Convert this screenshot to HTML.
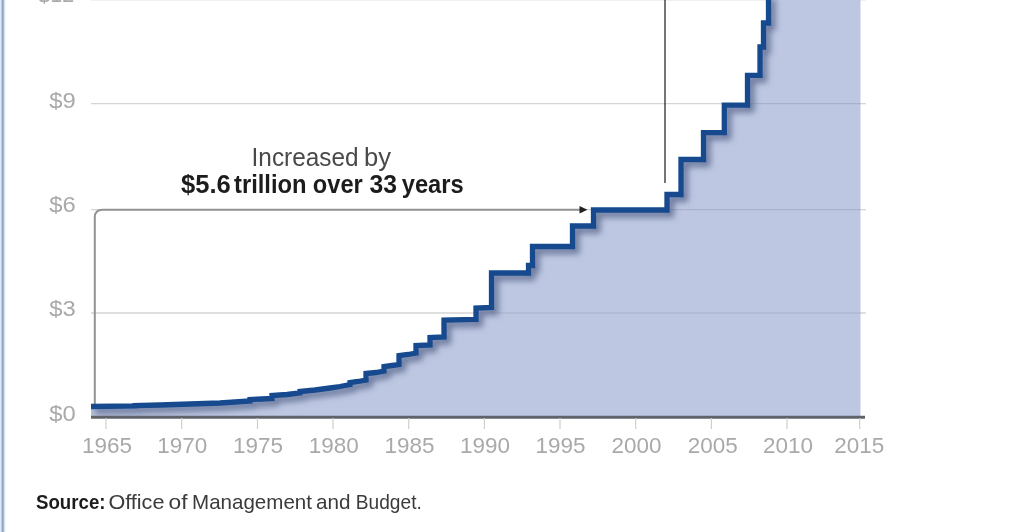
<!DOCTYPE html>
<html>
<head>
<meta charset="utf-8">
<title>Debt limit chart</title>
<style>
html,body{margin:0;padding:0;background:#fff;}
body{width:1024px;height:532px;overflow:hidden;position:relative;font-family:"Liberation Sans",sans-serif;}
svg{position:absolute;left:0;top:0;display:block;}
.edge{position:absolute;left:0;top:0;width:6px;height:532px;background:linear-gradient(to right,#dbeafb 0px,#dbeafb 1px,#bccde0 1px,#bccde0 2px,#90a6bd 2px,#90a6bd 3px,#a5b9cd 3px,#a5b9cd 4px,#d4e4f3 4px,#d4e4f3 5px,#f2f9fe 5px,#f2f9fe 6px);}
text{font-family:"Liberation Sans",sans-serif;}
.ax{fill:#a9a9a9;font-size:22px;}
</style>
</head>
<body>
<svg width="1024" height="532" viewBox="0 0 1024 532">
  <defs>
    <filter id="sh" x="-5%" y="-5%" width="110%" height="115%">
      <feGaussianBlur stdDeviation="3.2"/>
    </filter>
    <filter id="soft" x="-2%" y="-2%" width="104%" height="104%">
      <feGaussianBlur stdDeviation="0.65"/>
    </filter>
    <clipPath id="fillclip">
      <path id="areapath" d="M91,406.5 L135,406 L135,405.5 L160,405 L190,404 L205,403.5 L220,403 L235,402 L250,401 L250,399.5 L262,399 L272,398.5 L272,395.5 L287,394.5 L300,393 L300,391.5 L315,390 L330,388 L340,386.5 L350,384.5 L350,382.5 L358,381.5 L366,380 L366,373.5 L376,372.5 L384,371 L384,366.5 L392,365.5 L399,364.5 L399,355.5 L408,354.5 L416,353 L416,345.5 L430,345 L430,337.5 L444,337 L444,320 L476,319.5 L476,308 L491.5,307.5 L491.5,273 L528.5,273 L528.5,265.5 L532.5,265.5 L532.5,246.5 L572.5,246.5 L572.5,226 L593.5,226 L593.5,210 L667,210 L667,194.5 L681,194.5 L681,159.5 L703.5,159.5 L703.5,132.6 L724.3,132.6 L724.3,105.1 L747.5,105.1 L747.5,75.3 L760,75.3 L760,47 L763.5,47 L763.5,23 L768.5,23 L768.5,-5 L860.5,-5 L860.5,417 L91,417 Z"/>
    </clipPath>
  </defs>

  <g filter="url(#soft)">
  <!-- gridlines -->
  <g stroke="#d4d4d4" stroke-width="1.4">
    <line x1="91" y1="-0.2" x2="866" y2="-0.2" stroke="#e2e2e2"/>
    <line x1="91" y1="103.6" x2="866" y2="103.6"/>
    <line x1="91" y1="209.6" x2="866" y2="209.6"/>
    <line x1="91" y1="313" x2="866" y2="313"/>
  </g>

  <!-- area fill -->
  <use href="#areapath" fill="#bdc7e2"/>
  <!-- gridlines over the fill -->
  <g stroke="#a9b2c9" stroke-width="1.2" clip-path="url(#fillclip)">
    <line x1="91" y1="103.6" x2="866" y2="103.6"/>
    <line x1="91" y1="209.6" x2="866" y2="209.6"/>
    <line x1="91" y1="313" x2="866" y2="313"/>
  </g>

  <!-- shadow of line -->
  <g clip-path="url(#fillclip)">
    <path id="sline" filter="url(#sh)" transform="translate(3.5,4)" fill="none" stroke="#56648a" stroke-opacity="0.8" stroke-width="7"
      d="M91,406.5 L135,406 L135,405.5 L160,405 L190,404 L205,403.5 L220,403 L235,402 L250,401 L250,399.5 L262,399 L272,398.5 L272,395.5 L287,394.5 L300,393 L300,391.5 L315,390 L330,388 L340,386.5 L350,384.5 L350,382.5 L358,381.5 L366,380 L366,373.5 L376,372.5 L384,371 L384,366.5 L392,365.5 L399,364.5 L399,355.5 L408,354.5 L416,353 L416,345.5 L430,345 L430,337.5 L444,337 L444,320 L476,319.5 L476,308 L491.5,307.5 L491.5,273 L528.5,273 L528.5,265.5 L532.5,265.5 L532.5,246.5 L572.5,246.5 L572.5,226 L593.5,226 L593.5,210 L667,210 L667,194.5 L681,194.5 L681,159.5 L703.5,159.5 L703.5,132.6 L724.3,132.6 L724.3,105.1 L747.5,105.1 L747.5,75.3 L760,75.3 L760,47 L763.5,47 L763.5,23 L768.5,23 L768.5,-5"/>
  </g>

  <!-- annotation lines -->
  <path d="M94.8,404 L94.8,217.5 Q94.8,209.8 102.5,209.8 L582,209.8" fill="none" stroke="#939393" stroke-width="2"/>
  <path d="M579.5,206 L587.5,209.8 L579.5,213.6 Z" fill="#222"/>
  <line x1="665" y1="0" x2="665" y2="183" stroke="#2a2a2a" stroke-width="1.3"/>

  <!-- axis -->
  <line x1="91" y1="417.3" x2="865" y2="417.3" stroke="#5f636b" stroke-width="3"/>
  <g stroke="#cfcfcf" stroke-width="1.2">
    <line x1="106" y1="418" x2="106" y2="429"/>
    <line x1="181.7" y1="418" x2="181.7" y2="429"/>
    <line x1="257.5" y1="418" x2="257.5" y2="429"/>
    <line x1="333" y1="418" x2="333" y2="429"/>
    <line x1="408.7" y1="418" x2="408.7" y2="429"/>
    <line x1="484.4" y1="418" x2="484.4" y2="429"/>
    <line x1="560" y1="418" x2="560" y2="429"/>
    <line x1="635.7" y1="418" x2="635.7" y2="429"/>
    <line x1="711.4" y1="418" x2="711.4" y2="429"/>
    <line x1="787" y1="418" x2="787" y2="429"/>
    <line x1="859.7" y1="418" x2="859.7" y2="429"/>
  </g>

  <!-- main line -->
  <path fill="none" stroke="#154a8e" stroke-width="5.3" stroke-linejoin="miter"
      d="M91,406.5 L135,406 L135,405.5 L160,405 L190,404 L205,403.5 L220,403 L235,402 L250,401 L250,399.5 L262,399 L272,398.5 L272,395.5 L287,394.5 L300,393 L300,391.5 L315,390 L330,388 L340,386.5 L350,384.5 L350,382.5 L358,381.5 L366,380 L366,373.5 L376,372.5 L384,371 L384,366.5 L392,365.5 L399,364.5 L399,355.5 L408,354.5 L416,353 L416,345.5 L430,345 L430,337.5 L444,337 L444,320 L476,319.5 L476,308 L491.5,307.5 L491.5,273 L528.5,273 L528.5,265.5 L532.5,265.5 L532.5,246.5 L572.5,246.5 L572.5,226 L593.5,226 L593.5,210 L667,210 L667,194.5 L681,194.5 L681,159.5 L703.5,159.5 L703.5,132.6 L724.3,132.6 L724.3,105.1 L747.5,105.1 L747.5,75.3 L760,75.3 L760,47 L763.5,47 L763.5,23 L768.5,23 L768.5,-5"/>

  <!-- y labels -->
  <g class="ax">
    <text x="38.3" y="2.4" textLength="36" lengthAdjust="spacingAndGlyphs">$12</text>
    <text x="49.3" y="107.5" textLength="26.5" lengthAdjust="spacingAndGlyphs">$9</text>
    <text x="49.3" y="211.5" textLength="26.5" lengthAdjust="spacingAndGlyphs">$6</text>
    <text x="49.3" y="316" textLength="26.5" lengthAdjust="spacingAndGlyphs">$3</text>
    <text x="49.3" y="421" textLength="26.5" lengthAdjust="spacingAndGlyphs">$0</text>
  </g>
  <!-- x labels -->
  <g class="ax" text-anchor="middle">
    <text x="107" y="452.6" textLength="50" lengthAdjust="spacingAndGlyphs">1965</text>
    <text x="182.3" y="452.6" textLength="50" lengthAdjust="spacingAndGlyphs">1970</text>
    <text x="258.1" y="452.6" textLength="50" lengthAdjust="spacingAndGlyphs">1975</text>
    <text x="333.8" y="452.6" textLength="50" lengthAdjust="spacingAndGlyphs">1980</text>
    <text x="409.4" y="452.6" textLength="50" lengthAdjust="spacingAndGlyphs">1985</text>
    <text x="485" y="452.6" textLength="50" lengthAdjust="spacingAndGlyphs">1990</text>
    <text x="560.6" y="452.6" textLength="50" lengthAdjust="spacingAndGlyphs">1995</text>
    <text x="636.6" y="452.6" textLength="50" lengthAdjust="spacingAndGlyphs">2000</text>
    <text x="712.8" y="452.6" textLength="50" lengthAdjust="spacingAndGlyphs">2005</text>
    <text x="787.9" y="452.6" textLength="50" lengthAdjust="spacingAndGlyphs">2010</text>
    <text x="859.3" y="452.6" textLength="50" lengthAdjust="spacingAndGlyphs">2015</text>
  </g>

  <!-- annotation text -->
  <g font-size="25.5" fill="#4a4a4a">
    <text x="251.6" y="165.6" textLength="107" lengthAdjust="spacingAndGlyphs">Increased</text>
    <text x="364" y="165.6" textLength="27" lengthAdjust="spacingAndGlyphs">by</text>
  </g>
  <g font-size="25.5" font-weight="bold" fill="#1c1c1c">
    <text x="181" y="192.5" textLength="49.8" lengthAdjust="spacingAndGlyphs">$5.6</text>
    <text x="234" y="192.5" textLength="72.6" lengthAdjust="spacingAndGlyphs">trillion</text>
    <text x="312.8" y="192.5" textLength="50" lengthAdjust="spacingAndGlyphs">over</text>
    <text x="369.4" y="192.5" textLength="27.5" lengthAdjust="spacingAndGlyphs">33</text>
    <text x="401.7" y="192.5" textLength="62" lengthAdjust="spacingAndGlyphs">years</text>
  </g>

  <!-- source -->
  <g font-size="21" fill="#3a3a3a">
    <text x="36" y="508.6" font-weight="bold" fill="#1c1c1c" textLength="69.5" lengthAdjust="spacingAndGlyphs">Source:</text>
    <text x="108.4" y="508.6" textLength="56" lengthAdjust="spacingAndGlyphs">Office</text>
    <text x="168.5" y="508.6" textLength="19" lengthAdjust="spacingAndGlyphs">of</text>
    <text x="192" y="508.6" textLength="120" lengthAdjust="spacingAndGlyphs">Management</text>
    <text x="316" y="508.6" textLength="34.5" lengthAdjust="spacingAndGlyphs">and</text>
    <text x="355.8" y="508.6" textLength="66" lengthAdjust="spacingAndGlyphs">Budget.</text>
  </g>
  </g>
</svg>
<div class="edge"></div>
</body>
</html>
